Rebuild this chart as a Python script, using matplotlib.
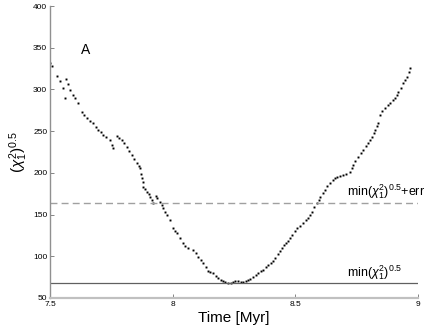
import numpy as np
import matplotlib
matplotlib.use("Agg")
import matplotlib.pyplot as plt
import matplotlib.transforms as mtransforms

plt.rcParams['font.family'] = ['Liberation Sans', 'DejaVu Sans']
plt.rcParams['mathtext.fontset'] = 'custom'
plt.rcParams['mathtext.rm'] = 'Liberation Sans'
plt.rcParams['mathtext.it'] = 'Liberation Sans:italic'

# time [Myr] and chi values
time_myr = [
    7.500, 7.508, 7.527, 7.541, 7.553, 7.561, 7.564, 7.573, 7.582, 7.594,
    7.602, 7.614, 7.629, 7.639, 7.650, 7.663, 7.675, 7.688, 7.696, 7.708,
    7.716, 7.728, 7.745, 7.753, 7.757, 7.772, 7.781, 7.792, 7.802, 7.813,
    7.822, 7.833, 7.842, 7.853, 7.861, 7.867, 7.871, 7.874, 7.877, 7.880,
    7.887, 7.894, 7.902, 7.908, 7.916, 7.920, 7.930, 7.936, 7.948, 7.955,
    7.961, 7.969, 7.976, 7.989, 8.001, 8.010, 8.016, 8.030, 8.042, 8.052,
    8.063, 8.083, 8.093, 8.103, 8.114, 8.124, 8.134, 8.144, 8.154, 8.164,
    8.175, 8.185, 8.195, 8.205, 8.215, 8.226, 8.236, 8.246, 8.256, 8.266,
    8.277, 8.287, 8.297, 8.307, 8.317, 8.328, 8.338, 8.348, 8.358, 8.368,
    8.379, 8.389, 8.399, 8.409, 8.419, 8.430, 8.438, 8.446, 8.454, 8.462,
    8.470, 8.478, 8.487, 8.497, 8.507, 8.519, 8.531, 8.542, 8.552, 8.560,
    8.568, 8.578, 8.588, 8.595, 8.601, 8.611, 8.621, 8.631, 8.641, 8.654,
    8.662, 8.670, 8.682, 8.694, 8.707, 8.723, 8.731, 8.735, 8.745, 8.756,
    8.766, 8.776, 8.786, 8.796, 8.805, 8.813, 8.819, 8.825, 8.831, 8.837,
    8.845, 8.855, 8.866, 8.876, 8.886, 8.896, 8.906, 8.914, 8.919, 8.929,
    8.939, 8.947, 8.955, 8.962, 8.968,
]
chi_values = [
    331.8, 328.2, 316.2, 310.2, 301.8, 289.8, 312.6, 306.6, 299.4, 293.4,
    289.8, 283.8, 273.0, 269.4, 265.8, 262.2, 259.8, 255.0, 251.4, 249.0,
    245.4, 243.0, 239.4, 233.4, 229.8, 244.2, 241.8, 239.4, 235.8, 231.0,
    226.3, 221.5, 216.7, 211.9, 208.3, 205.9, 198.7, 193.9, 189.1, 183.1,
    180.7, 177.1, 174.7, 171.1, 167.5, 163.9, 172.3, 169.9, 165.1, 161.5,
    157.9, 153.1, 149.5, 143.5, 133.9, 130.3, 127.9, 121.9, 115.9, 112.3,
    109.9, 107.5, 104.0, 99.2, 95.6, 92.0, 87.2, 82.4, 81.2, 80.0,
    76.4, 74.0, 71.6, 70.4, 69.2, 68.0, 68.0, 69.2, 70.4, 70.4,
    69.2, 69.2, 70.4, 71.6, 72.8, 75.2, 77.6, 80.0, 82.4, 83.6,
    87.2, 89.6, 92.0, 94.4, 98.0, 102.8, 106.4, 110.0, 113.5, 115.9,
    118.3, 121.9, 125.5, 130.3, 133.9, 136.3, 139.9, 143.5, 145.9, 149.5,
    153.1, 159.1, 163.9, 167.5, 171.1, 175.9, 179.5, 184.3, 187.9, 191.5,
    193.9, 195.1, 196.3, 197.5, 198.7, 201.1, 205.9, 209.5, 214.3, 219.1,
    223.9, 227.5, 232.2, 235.8, 239.4, 243.0, 247.8, 251.4, 256.2, 259.8,
    269.4, 274.2, 277.8, 281.4, 283.8, 287.4, 289.8, 293.4, 297.0, 301.8,
    307.8, 311.4, 315.0, 321.0, 325.8,
]
chi_min = 67.6
chi_min_err = 164.0

x_ticks = [7.5, 8, 8.5, 9]
x_tick_labels = ['7.5', '8', '8.5', '9']
y_ticks = [50, 100, 150, 200, 250, 300, 350, 400]

fig = plt.figure(figsize=(4.29, 3.28), dpi=100)
ax = fig.add_axes([0.1166, 0.0915, 0.8578, 0.8902])

ax.plot(time_myr, chi_values, linestyle='none', marker='s', markersize=1.4,
        color='black', markeredgewidth=0)

ax.axhline(chi_min_err, color='#a0a0a0', linestyle=(0, (5, 3)), linewidth=1.0)
ax.axhline(chi_min, color='#606060', linestyle='-', linewidth=0.9)

trans = mtransforms.blended_transform_factory(ax.transAxes, ax.transData)
ax.text(1.019, chi_min_err + 2, r'min$(\chi_1^2)^{0.5}$+err', transform=trans,
        ha='right', va='bottom', fontsize=9, clip_on=False)
ax.text(0.957, chi_min + 2, r'min$(\chi_1^2)^{0.5}$', transform=trans,
        ha='right', va='bottom', fontsize=9, clip_on=False)

ax.text(7.647, 347, 'A', ha='center', va='center', fontsize=10)

ax.set_xlim(7.5, 9)
ax.set_ylim(50, 400)
ax.set_xticks(x_ticks)
ax.set_xticklabels(x_tick_labels)
ax.set_yticks(y_ticks)

ax.spines['top'].set_visible(False)
ax.spines['right'].set_visible(False)
ax.spines['left'].set_color('#909090')
ax.spines['left'].set_linewidth(1.0)
ax.spines['bottom'].set_color('#c0c0c0')
ax.spines['bottom'].set_linewidth(1.6)
ax.tick_params(direction='in', length=3, width=0.6, color='#707070',
               labelsize=6, pad=2)

ax.set_xlabel('Time [Myr]', fontsize=11, labelpad=2)
ax.set_ylabel(r'$(\chi_1^2)^{0.5}$', fontsize=11, labelpad=2)

fig.savefig('out.png', dpi=100)
